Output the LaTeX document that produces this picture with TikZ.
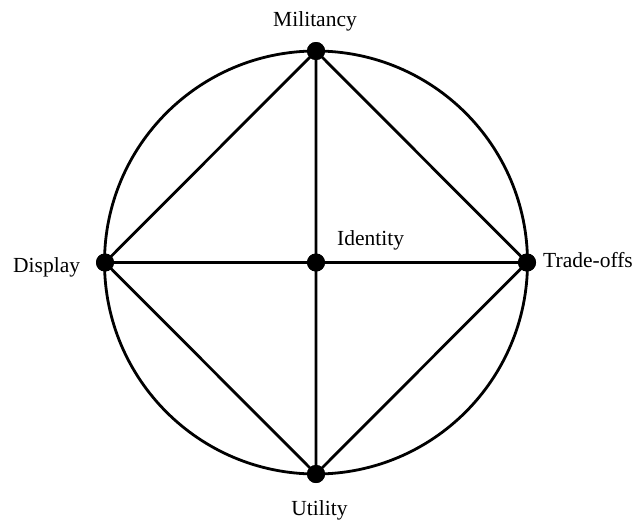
\documentclass[tikz,border=0pt]{standalone}
\usepackage{fontspec}
\setmainfont{Liberation Serif}
\begin{document}
\begin{tikzpicture}[x=1pt,y=-1pt,
  dot/.style={circle,fill=black,inner sep=0pt,minimum size=18pt},
  lbl/.style={inner sep=0pt,anchor=base,font=\fontsize{21.5}{24}\selectfont},
  edge/.style={line width=2.8pt}]
\useasboundingbox (0,0) rectangle (634,522);
\coordinate (c) at (316,262.5);
\draw[edge] (c) circle[radius=211.5];
\node[dot] (m) at (316,51) {};
\node[dot] (d) at (105,262.5) {};
\node[dot] (t) at (527,262.5) {};
\node[dot] (u) at (316,474) {};
\node[dot] (i) at (316,262.5) {};
\draw[edge] (m.center) -- (d.center) -- (u.center) -- (t.center) -- (m.center) -- (u.center);
\draw[edge] (d.center) -- (t.center);
\node[dot] at (m) {};
\node[dot] at (d) {};
\node[dot] at (t) {};
\node[dot] at (u) {};
\node[dot] at (i) {};
\node[lbl] (lm) at (315,27) {Militancy};
\node[lbl,anchor=base west] (ld) at (13,272) {Display};
\node[lbl,anchor=base west] (lt) at (543,267) {Trade-offs};
\node[lbl,anchor=base west] (li) at (337,245) {Identity};
\node[lbl] (lu) at (319.5,515) {Utility};
\end{tikzpicture}
\end{document}
